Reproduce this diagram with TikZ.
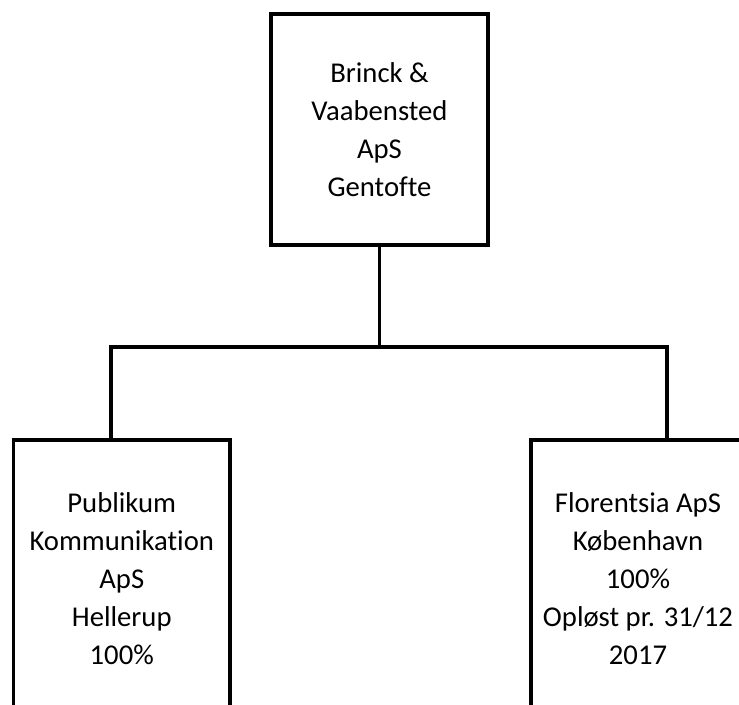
\documentclass[tikz,border=0pt]{standalone}
\usepackage{fontspec}
\setmainfont[Ligatures=NoCommon]{Carlito}
\tikzset{firm/.style={draw,line width=2.35pt,align=center,inner sep=0pt,
  font=\fontsize{20.4}{27}\selectfont}}
\begin{document}
\begin{tikzpicture}
\useasboundingbox (0,0) rectangle (18.475,17.6);
\clip (0,0) rectangle (18.475,17.6);

\node [firm,minimum width=5.425cm,minimum height=5.775cm] (top) at (9.4875,14.3625) {Brinck \&\\Vaabensted\\ApS\\Gentofte};
\node [firm,minimum width=5.41cm,minimum height=6.95cm] (left) at (3.044,3.125) {Publikum\\Kommunikation\\ApS\\Hellerup\\100\%};
\node [firm,minimum width=5.35cm,minimum height=6.95cm] (right) at (15.95,3.125) {Florentsia ApS\\København\\100\%\\Opløst pr. 31/12\\2017};

\coordinate (lbend) at (2.775,8.925);
\coordinate (rbend) at (16.675,8.925);
\draw [line width=2.35pt] (top.south) -- (top.south |- lbend);
\draw [line width=2.35pt] (lbend |- left.north) -- (lbend) -- (rbend) -- (rbend |- right.north);

\end{tikzpicture}
\end{document}
